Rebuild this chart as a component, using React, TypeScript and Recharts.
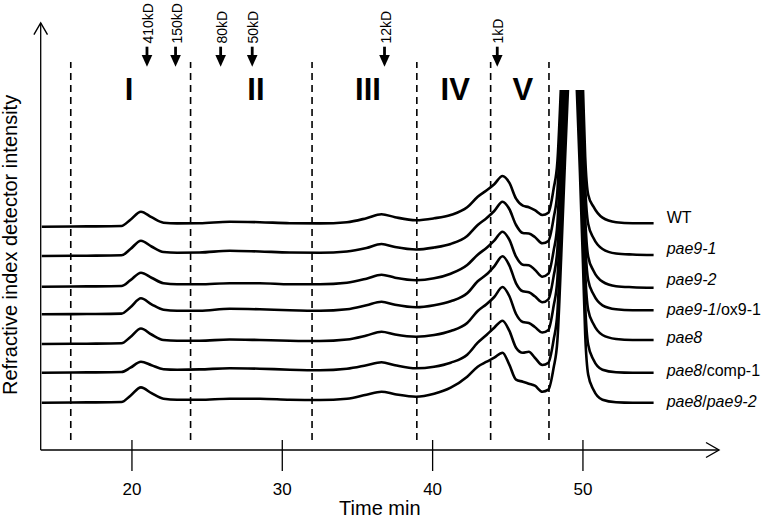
import { LineChart, Line, XAxis, YAxis, ReferenceLine, ReferenceDot } from 'recharts';

const FONT = '"Liberation Sans", Arial, Helvetica, sans-serif';

// elution time (min) of the sampled points
const TIME = [
  14, 17, 19.3, 19.9, 20.6, 21.3, 22.1, 23, 24.5, 26.5, 28.5, 30.5, 32.5, 34.3, 35.6, 36.6,
  37.5, 38.9, 40.1, 41.2, 42.3, 43.0, 43.6, 44.1, 44.65, 45.1, 45.55, 46.0, 46.4, 46.8, 47.3,
  47.7, 48.05, 48.3, 48.55, 48.8, 49.05, 49.3, 49.55, 49.8, 50.0, 50.15, 50.35, 50.7, 51.3,
  52.2, 53.3, 54.7,
];

// RI signal above each trace's own baseline
const WT = [
  0, 0.3, 0.7, 7, 15, 9.5, 4, 3.3, 3.5, 5, 4.5, 3.5, 3.3, 4.5, 8.5, 12.5, 9.5, 6.5, 8.4, 11.7,
  19.4, 30, 36.5, 42.5, 50.7, 44, 28, 21, 19.5, 16.5, 11.7, 14, 38, 65, 145, 240, 330, 420, 330,
  230, 140, 70, 32, 20, 9, 4.5, 3.5, 3.5,
];
const PAE9_1 = [
  0, 0.3, 0.7, 7, 15.3, 9.5, 4, 3.3, 3.5, 5.3, 4.5, 3.5, 3.3, 4.5, 8, 12, 9, 6.5, 8.5, 12, 20,
  31, 38, 45, 54.3, 47, 31, 23, 22.5, 19, 12.7, 15, 38, 65, 145, 240, 330, 420, 330, 230, 140,
  70, 32, 18, 7, 2.5, 1.5, 1,
];
const PAE9_2 = [
  0, 0.3, 0.7, 6.5, 14, 9, 3.5, 2.5, 2.5, 3.5, 3.5, 2.5, 2.5, 4, 8, 12, 9, 6.5, 8.4, 13, 21.7,
  32, 39, 46, 55, 47, 30, 22, 21.5, 17, 10, 13, 36, 63, 145, 240, 330, 420, 330, 230, 140, 70,
  30, 16, 5, 0.5, -0.5, -1,
];
const PAE9_1_OX = [
  0, 0.3, 0.7, 7, 16, 10, 4.5, 3.5, 3.5, 5.5, 5, 4, 3.5, 5, 9, 12.5, 9.5, 7, 9, 13, 21, 33, 40,
  48, 58, 49, 31, 23, 22, 18, 12, 15, 38, 65, 145, 240, 330, 420, 330, 230, 140, 72, 34, 20, 9,
  5, 4, 4,
];
const PAE8 = [
  0, 0.3, 0.7, 7, 15.5, 9.5, 4, 3.3, 3.3, 4.5, 4, 3.3, 3, 4.5, 8.5, 12.3, 9.5, 7.3, 9, 13, 21,
  33, 40, 47, 57, 48, 30, 22, 21, 17, 11.5, 14, 38, 65, 145, 240, 330, 420, 330, 230, 140, 72,
  34, 20, 9, 5, 4, 4,
];
const PAE8_COMP = [
  0, 0.3, 0.7, 5, 11, 7.5, 3.5, 3, 3.3, 4.5, 4, 3, 2.5, 4, 7.5, 10.5, 7.5, 4.4, 6, 10, 18, 30,
  38, 45, 52, 42, 25, 20, 21, 15, 7.7, 10, 33, 60, 145, 240, 330, 420, 330, 230, 140, 68, 28,
  13, 3, 0.5, 0, 0,
];
const PAE8_PAE9 = [
  0, 0.3, 0.7, 7, 15.3, 9.5, 4, 3, 3, 4, 4, 3, 2.7, 4, 8, 11, 8.5, 6, 9, 15, 26, 36, 41, 45, 50,
  38, 23, 21, 19, 17, 11, 13, 35, 62, 145, 240, 330, 420, 330, 230, 140, 68, 28, 13, 3, 0.5, 0, 0,
];

const TRACES = [WT, PAE9_1, PAE9_2, PAE9_1_OX, PAE8, PAE8_COMP, PAE8_PAE9];
// vertical offset of each stacked trace
const BASELINES = [223.3, 194, 163.3, 135.7, 106, 77.3, 47.3];

// [text, italic] pieces of each trace name
const NAMES: [string, boolean][][] = [
  [['WT', false]],
  [['pae9-1', true]],
  [['pae9-2', true]],
  [['pae9-1', true], ['/ox9-1', false]],
  [['pae8', true]],
  [['pae8', true], ['/comp-1', false]],
  [['pae8', true], ['/', false], ['pae9-2', true]],
];
const NAME_TIME = 55.57;
const NAME_LEVELS = [233, 202, 171, 141, 113, 80, 49];

const DIVIDERS = [15.93, 23.9, 31.98, 38.95, 43.86, 47.74];
const REGIONS = ['I', 'II', 'III', 'IV', 'V'];
const REGION_TIME = [19.8, 28.25, 35.7, 41.5, 46.0];

const MARKERS = ['410kD', '150kD', '80kD', '50kD', '12kD', '1kD'];
const MARKER_TIME = [21.0, 22.9, 25.9, 28.0, 36.8, 44.3];

const X_TICKS = [20, 30, 40, 50];
const X_DOMAIN: [number, number] = [13.93, 59.05];
const Y_DOMAIN: [number, number] = [0, 360];
const Y_AXIS_TOP = 427;
const DIVIDER_RANGE = [10, 388];

const rows = TIME.map((t, i) => {
  const row: Record<string, number> = { t };
  TRACES.forEach((tr, k) => {
    row[`s${k}`] = BASELINES[k] + tr[i];
  });
  return row;
});

// eslint-disable-next-line @typescript-eslint/no-explicit-any
function TimeTick(props: any) {
  const { x, y, payload } = props;
  return (
    <g>
      <line x1={x} x2={x} y1={y - 10} y2={y + 21} stroke="#000" strokeWidth={1.3} />
      <text x={x} y={y + 45} textAnchor="middle" fontSize={17} fontFamily={FONT} fill="#000">
        {payload.value}
      </text>
    </g>
  );
}

export default function App() {
  return (
    <div style={{ position: 'absolute', left: 0, top: 0, width: 767, height: 526, background: '#fff' }}>
      <LineChart
        width={767}
        height={526}
        data={rows}
        margin={{ top: 90, right: 48, bottom: 0, left: 40.7 }}
      >
        <XAxis
          type="number"
          dataKey="t"
          domain={X_DOMAIN}
          allowDataOverflow
          ticks={X_TICKS}
          interval={0}
          height={76}
          tickSize={0}
          tickMargin={0}
          tickLine={false}
          tick={<TimeTick />}
          axisLine={{ stroke: '#000', strokeWidth: 1.3 }}
          label={{
            value: 'Time min',
            position: 'insideBottom',
            offset: 11,
            fontSize: 20,
            fontFamily: FONT,
            fill: '#000',
          }}
        />
        <YAxis type="number" hide domain={Y_DOMAIN} allowDataOverflow />

        {/* y axis with arrow */}
        <ReferenceLine
          segment={[
            { x: X_DOMAIN[0], y: Y_DOMAIN[0] },
            { x: X_DOMAIN[0], y: Y_AXIS_TOP },
          ]}
          stroke="#000"
          strokeWidth={1.3}
          ifOverflow="visible"
        />
        <ReferenceDot
          x={X_DOMAIN[0]}
          y={Y_AXIS_TOP}
          ifOverflow="visible"
          shape={(p: any) => (
            <polyline
              points={`${p.cx - 6.8},${p.cy + 11.7} ${p.cx},${p.cy} ${p.cx + 6.8},${p.cy + 11.7}`}
              fill="none"
              stroke="#000"
              strokeWidth={1.4}
            />
          )}
        />
        <ReferenceDot
          x={X_DOMAIN[0]}
          y={Y_DOMAIN[0]}
          ifOverflow="visible"
          shape={(p: any) => (
            <text
              transform={`translate(${p.cx - 24}, ${p.cy - 55}) rotate(-90)`}
              textAnchor="start"
              fontSize={20}
              fontFamily={FONT}
              fill="#000"
            >
              Refractive index detector intensity
            </text>
          )}
        />
        {/* x axis arrow head */}
        <ReferenceDot
          x={X_DOMAIN[1]}
          y={Y_DOMAIN[0]}
          ifOverflow="visible"
          shape={(p: any) => (
            <polyline
              points={`${p.cx - 13},${p.cy - 7.5} ${p.cx},${p.cy} ${p.cx - 13},${p.cy + 7.5}`}
              fill="none"
              stroke="#000"
              strokeWidth={1.4}
            />
          )}
        />

        {DIVIDERS.map((d) => (
          <ReferenceLine
            key={`d${d}`}
            segment={[
              { x: d, y: DIVIDER_RANGE[0] },
              { x: d, y: DIVIDER_RANGE[1] },
            ]}
            stroke="#000"
            strokeWidth={1.6}
            strokeDasharray="7 5"
            ifOverflow="visible"
          />
        ))}

        {REGIONS.map((r, i) => (
          <ReferenceDot
            key={r}
            x={REGION_TIME[i]}
            y={Y_DOMAIN[1]}
            ifOverflow="visible"
            shape={(p: any) => (
              <text
                x={p.cx}
                y={p.cy + 9.5}
                textAnchor="middle"
                fontSize={31}
                fontWeight="bold"
                fontFamily={FONT}
                fill="#000"
              >
                {r}
              </text>
            )}
          />
        ))}

        {MARKERS.map((m, i) => (
          <ReferenceDot
            key={m}
            x={MARKER_TIME[i]}
            y={Y_DOMAIN[1]}
            ifOverflow="visible"
            shape={(p: any) => (
              <g>
                <line x1={p.cx} x2={p.cx} y1={p.cy - 43.3} y2={p.cy - 33} stroke="#000" strokeWidth={2.8} />
                <polygon
                  points={`${p.cx - 5.3},${p.cy - 35} ${p.cx + 5.3},${p.cy - 35} ${p.cx},${p.cy - 23.3}`}
                  fill="#000"
                />
                <text
                  transform={`translate(${p.cx + 6}, ${p.cy - 46.5}) rotate(-90)`}
                  textAnchor="start"
                  fontSize={14}
                  fontFamily={FONT}
                  fill="#000"
                >
                  {m}
                </text>
              </g>
            )}
          />
        ))}

        {TRACES.map((_, k) => (
          <Line
            key={`s${k}`}
            type="monotone"
            dataKey={`s${k}`}
            stroke="#000"
            strokeWidth={2.6}
            dot={false}
            activeDot={false}
            isAnimationActive={false}
          />
        ))}

        {NAMES.map((parts, k) => (
          <ReferenceDot
            key={`n${k}`}
            x={NAME_TIME}
            y={NAME_LEVELS[k]}
            ifOverflow="visible"
            shape={(p: any) => (
              <text x={p.cx} y={p.cy + 5.5} fontSize={16} fontFamily={FONT} fill="#000">
                {parts.map(([txt, it], j) => (
                  <tspan key={j} fontStyle={it ? 'italic' : 'normal'}>
                    {txt}
                  </tspan>
                ))}
              </text>
            )}
          />
        ))}
      </LineChart>
    </div>
  );
}
